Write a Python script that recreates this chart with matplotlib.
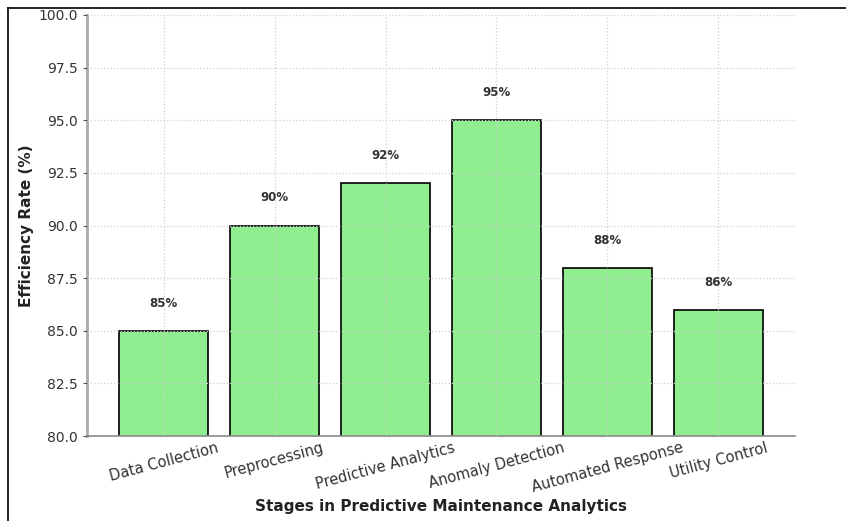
import matplotlib
matplotlib.use("Agg")
import matplotlib.pyplot as plt
from matplotlib.lines import Line2D

stages = ["Data Collection", "Preprocessing", "Predictive Analytics",
          "Anomaly Detection", "Automated Response", "Utility Control"]
efficiency = [85, 90, 92, 95, 88, 86]
yticks = [80.0, 82.5, 85.0, 87.5, 90.0, 92.5, 95.0, 97.5, 100.0]

fig = plt.figure(figsize=(8.46, 5.21), dpi=100)
ax = fig.add_axes([87/846, 1-436/521, (795-87)/846, (436-15)/521])

bars = ax.bar(range(len(stages)), efficiency, width=0.8, color="#90EE90",
              edgecolor="black", linewidth=1.2, zorder=1)
ax.set_ylim(80, 100)
ax.set_yticks(yticks)
ax.set_yticklabels([f"{t:.1f}" for t in yticks])
ax.set_xticks(range(len(stages)))
ax.set_xticklabels(stages, rotation=15, ha="center")

ax.grid(True, linestyle=":", color="#d0d0d0", linewidth=0.9, zorder=2)
ax.set_axisbelow(False)

for i, v in enumerate(efficiency):
    ax.text(i, v + 1, f"{v}%", ha="center", va="bottom", fontsize=8.5,
            fontweight="bold", color="#333333")

ax.set_xlabel("Stages in Predictive Maintenance Analytics", fontsize=11,
              fontweight="bold", color="#222222", labelpad=3)
ax.set_ylabel("Efficiency Rate (%)", fontsize=11, fontweight="bold",
              color="#222222", labelpad=3)

for s in ["top", "right"]:
    ax.spines[s].set_visible(False)
ax.spines["left"].set_color("#aaaaaa")
ax.spines["left"].set_linewidth(2)
ax.spines["bottom"].set_color("#888888")
ax.spines["bottom"].set_linewidth(1.2)
ax.tick_params(axis="y", colors="#555555", labelcolor="#333333",
               labelsize=10, length=3)
ax.tick_params(axis="x", colors="#555555", labelcolor="#333333",
               labelsize=10.5, length=0, pad=3)

# figure border lines (left and top)
fig.add_artist(Line2D([8/846, 8/846], [0, 1 - 7.5/521], transform=fig.transFigure,
                      color="black", linewidth=1.2))
fig.add_artist(Line2D([8/846, 1], [1 - 7.5/521, 1 - 7.5/521], transform=fig.transFigure,
                      color="black", linewidth=1.2))

fig.savefig("out.png", dpi=100)
